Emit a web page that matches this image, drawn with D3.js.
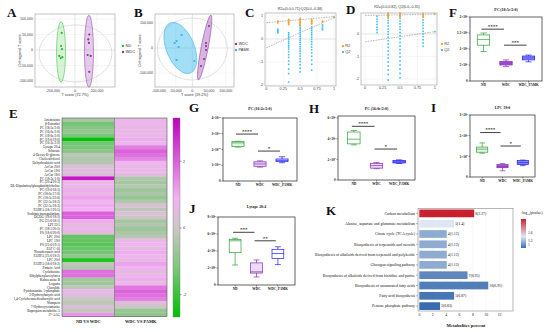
<!DOCTYPE html>
<html><head><meta charset="utf-8">
<script src="https://cdn.jsdelivr.net/npm/d3@7"></script>
<style>
body{margin:0;background:#fff}
svg{display:block}
</style></head><body>
<svg id="fig" width="550" height="332"></svg>
<script>
// ---- data ----
// A: OPLS-DA scores ND vs WDC
const aND = [[-121000,55000],[-127000,13000],[-118000,3000],[-143000,-19000],[-130000,-26000],[-115000,-23000]];
const aWDC = [[130000,50000],[121000,34000],[127000,23000],[115000,-16000],[143000,-19000],[130000,-70000]];
// ellipses: [cx, cy, rx, ry, rotation]
const aEllND = [-127000,-6000,41000,97000,0];
const aEllWDC = [127000,-4000,41000,116000,0];
const aEllAll = [4500,-11000,332000,92000,0];
// B: WDC vs PAMK
const bWDC = [[50000,88000],[41000,20000],[41000,8000],[41000,-8000],[35000,-44000],[26000,-72000]];
const bPAMK = [[-53000,20000],[-47000,28000],[-32000,52000],[-41000,4000],[-47000,-48000],[6000,-52000]];
const bEllWDC = [37000,2000,10500,132000,11];
const bEllPAMK = [-36000,0,42000,108000,-22];
const bEllAll = [0,-4000,105000,124000,0];

// C / D permutation tests: [x, values]
const cR2 = [[0.17,[0.78,0.74,0.7]],[0.33,[0.86,0.82,0.79,0.75,0.71,0.67,0.63]],[0.5,[0.9,0.86,0.83,0.79,0.75,0.72,0.68,0.64,0.6]],[0.67,[0.84,0.8,0.76,0.72,0.68,0.65]],[0.83,[0.78,0.74]],[1,[0.97]]];
const cQ2 = [[0.17,[0.43,0.38,0.33,0.27]],
  [0.33,[0.27,0.2,0.12,0.05,-0.02,-0.1,-0.18,-0.27,-0.35,-0.44,-0.55,-0.68,-0.8,-0.95,-1.1,-1.3,-1.5,-1.87]],
  [0.5,[0.6,0.52,0.44,0.36,0.28,0.2,0.12,0.03,-0.05,-0.14,-0.23,-0.33,-0.42,-0.52,-0.63,-0.74,-0.86,-0.98,-1.12,-1.27,-1.43]],
  [0.67,[0.52,0.44,0.36,0.27,0.18,0.08,-0.02,-0.12,-0.23,-0.35,-0.47,-0.6,-0.75,-0.92,-1.1,-1.35]],
  [0.83,[0.62,0.55,0.47,0.4]],[1,[0.93]]];
const cLines = {r2:[0.71,0.97], q2:[-0.38,0.93]};
const dR2 = [[0.33,[0.92,0.88,0.84,0.8,0.76,0.72]],[0.5,[0.92,0.88,0.84,0.8,0.76]],[0.83,[0.9,0.86,0.82,0.78,0.74]],[1,[0.88]]];
const dQ2 = [[0.17,[0.78,0.66,0.55,0.42,0.3,0.18,0.06]],
  [0.33,[0.85,0.72,0.6,0.48,0.35,0.22,0.1,-0.02,-0.15,-0.3,-0.45,-0.6,-0.76,-0.92,-1.08,-1.25,-1.42,-1.6,-1.8,-2.05]],
  [0.5,[0.82,0.7,0.58,0.45,0.32,0.2,0.06,-0.08,-0.22,-0.38,-0.54,-0.7,-0.86,-1.02,-1.2,-1.38,-1.56,-1.75,-1.95]],
  [0.83,[0.62,0.5,0.38,0.25,0.12,0,-0.12,-0.26,-0.4,-0.55]],[1,[0.1]]];
const dLines = {r2:[0.82,0.88], q2:[-0.35,0.1]};

// box plots: [min, q1, median, q3, max]
const boxCats = ['ND','WDC','WDC_PAMK'];
const fBox = [[0.92,1.12,1.3,1.44,1.5],[0.45,0.5,0.56,0.61,0.66],[0.6,0.66,0.72,0.78,0.81]];
const gBox = [[2.15,2.18,2.42,2.5,2.52],[0.88,0.93,1.08,1.22,1.28],[1.16,1.23,1.31,1.4,1.54]];
const hBox = [[3.4,3.5,3.95,4.65,4.8],[1.1,1.15,1.4,1.6,1.7],[1.6,1.65,1.75,1.9,1.95]];
const iBox = [[1.15,1.2,1.35,1.45,1.65],[0.3,0.45,0.5,0.6,0.65],[0.55,0.6,0.7,0.8,0.82]];
const jBox = [[2.35,3.8,5.2,5.35,5.5],[0.95,1.4,1.55,2.6,2.95],[2.4,3.1,3.7,4.2,4.5]];
// significance: [from, to, y, label]
const fSig = [[0,1,1.62,'****'],[1,2,1.12,'***']];
const gSig = [[0,1,2.98,'****'],[1,2,1.9,'*']];
const hSig = [[0,1,5.2,'****'],[1,2,3.0,'*']];
const iSig = [[0,1,2.15,'****'],[1,2,1.5,'*']];
const jSig = [[0,1,6.2,'***'],[1,2,5.2,'**']];
const fTicks = [[0,'0'],[0.5,'5×10^3'],[1,'1×10^4'],[1.5,'1.5×10^4'],[2,'2×10^4']];
const gTicks = [[0,'0'],[1,'1×10^10'],[2,'2×10^10'],[3,'3×10^10'],[4,'4×10^10']];
const hTicks = [[0,'0'],[2,'2×10^4'],[4,'4×10^4'],[6,'6×10^4']];
const iTicks = [[0,'0'],[1,'1×10^4'],[2,'2×10^4'],[3,'3×10^4']];
const jTicks = [[0,'0'],[2,'2×10^4'],[4,'4×10^4'],[6,'6×10^4'],[8,'8×10^4']];

// E heatmap
const heatCols = ['ND VS WDC','WDC VS PAMK'];
const heatRows = ['Artemisinin','β-Estradiol','PC (18:5e/2:0)','PC (16:0e/2:0)','PC (18:0e/2:0)','PC (19:0/19:0)','PC (16:2e/2:0)','Lysope 20:4','Sebacate','4-Deoxy-D-glucose','Cholecalciferol','Dehydroabietic acid','AcCar 20:0','AcCar 19:0','AcCar 18:0','PC (18:3e/1:0)','PC (20:4/20:3)','DL-Dipalmitoylphosphatidylcholine','PC (19:0/18:3)','PC (18:0e/17:0)','PC (18:3e/22:6)','PC (22:5e/18:2)','PC (22:5e/18:3)','FAHFA (18:1/20:5)','Sorbitan monopalmitate','DGDG (18:0/18:3)','PG (23:0/18:1)','LPI 22:5','PC (18:1/20:5)','PS (18:0/20:0)','LPC 20:0','LPC 19:0','PS (23:0/19:1)','PAF C-16','Nonadecanoic acid','FAHFA (25:0/18:2)','LPC 20:0','FAHFA (18:0/18:2)','Pamoic Acid','Cyclobuxine','Ethylphenylacetylurea','Kahweanine B','Loganin','Clavulide','Pyridoxamine 5-phosphate','3-Hydroxybutyric acid','1,4-Cyclohexanedicarboxylic acid','Wampein','7-Hydroxycoumarine','Bupropion metabolite A','17-AAG'];
const heatND = [-0.5,-1.3,-1.0,-0.8,-1.2,-2.6,-1.3,-1.2,-1.0,-0.2,-0.4,-0.3,0.4,0.5,0.4,3.0,0.8,0.7,1.0,0.8,1.1,0.9,1.0,0.9,2.0,2.0,1.0,0.6,0.8,0.5,-1.5,-1.5,-1.6,-1.4,-1.3,-0.9,-2.3,-0.2,-0.3,1.8,1.8,-0.6,-0.7,-0.2,0.8,0.4,0.0,-0.2,0.3,-0.1,1.3];
const heatPAMK = [0.7,0.9,0.6,0.8,0.7,1.0,0.8,1.6,2.0,1.8,1.5,0.9,0.7,0.8,0.6,-0.4,-0.6,-0.3,-0.7,-0.5,-0.8,-0.4,0.3,-0.2,0.4,0.0,-0.6,-0.4,-0.7,-0.5,-0.3,0.7,0.9,0.6,1.0,0.8,0.7,1.1,0.9,0.6,0.8,1.0,0.7,1.7,2.0,1.8,1.6,0.5,0.0,-0.8,-0.9];

// K KEGG enrichment
const kPathways = ['Carbon metabolism','Alanine, aspartate and glutamate metabolism','Citrate cycle (TCA cycle)','Biosynthesis of terpenoids and steroids','Biosynthesis of alkaloids derived from terpenoid and polyketide','Glucagon signaling pathway','Biosynthesis of alkaloids derived from histidine and purine','Biosynthesis of unsaturated fatty acids','Fatty acid biosynthesis','Pentose phosphate pathway'];
const kPercent = [8.2,5.2,4.1,4.1,4.1,4.1,7.2,10.3,5.2,3.1];
const kCount = [8,5,4,4,4,4,7,10,5,3];
const kLogP = [2.27,1.4,1.12,1.12,1.12,1.12,0.95,0.91,0.87,0.83];

// ---- drawing ----
const svg = d3.select('#fig');
const SERIF = '"Liberation Serif","Times New Roman",serif';
const SANS = '"Liberation Sans",Arial,sans-serif';

function txt(g, x, y, s, o = {}) {
  const size = o.size || 4;
  const t = g.append('text').attr('x', x).attr('y', y)
    .attr('font-size', size).attr('text-anchor', o.anchor || 'start')
    .attr('font-family', o.family || SERIF).attr('fill', o.fill || '#111');
  if (o.weight) t.attr('font-weight', o.weight);
  if (o.rotate) t.attr('transform', `rotate(${o.rotate},${x},${y})`);
  const parts = String(s).split('^');
  t.append('tspan').text(parts[0]);
  if (parts[1]) t.append('tspan').attr('dy', -size * 0.4).attr('font-size', size * 0.7).text(parts[1]);
  return t;
}

function scorePlot(o) {
  const g = svg.append('g');
  const x = d3.scaleLinear().domain(o.xDomain).range([o.x0, o.x1]);
  const y = d3.scaleLinear().domain(o.yDomain).range([o.y1, o.y0]);
  g.selectAll(null).data(o.xTicks).join('line')
    .attr('x1', d => x(d)).attr('x2', d => x(d)).attr('y1', o.y0).attr('y2', o.y1)
    .attr('stroke', d => d === 0 ? '#cfcfcf' : '#ededed').attr('stroke-width', 0.5);
  g.selectAll(null).data(o.yTicks).join('line')
    .attr('y1', d => y(d)).attr('y2', d => y(d)).attr('x1', o.x0).attr('x2', o.x1)
    .attr('stroke', d => d === 0 ? '#cfcfcf' : '#ededed').attr('stroke-width', 0.5);
  const ell = (e, fill, stroke) => {
    const cx = x(e[0]), cy = y(e[1]);
    g.append('ellipse').attr('cx', cx).attr('cy', cy)
      .attr('rx', Math.abs(x(e[2]) - x(0))).attr('ry', Math.abs(y(e[3]) - y(0)))
      .attr('transform', `rotate(${e[4]},${cx},${cy})`)
      .attr('fill', fill).attr('stroke', stroke).attr('stroke-width', 0.5);
  };
  ell(o.all, 'none', '#c4c4c4');
  o.groups.forEach(gr => {
    ell(gr.ell, gr.fill, gr.color);
  });
  o.groups.forEach(gr => {
    g.selectAll(null).data(gr.pts).join('circle')
      .attr('cx', d => x(d[0])).attr('cy', d => y(d[1])).attr('r', 1.1).attr('fill', gr.color);
  });
  g.append('rect').attr('x', o.x0).attr('y', o.y0).attr('width', o.x1 - o.x0).attr('height', o.y1 - o.y0)
    .attr('fill', 'none').attr('stroke', '#9c9c9c').attr('stroke-width', 0.6);
  const f = d3.format(',');
  o.xTicks.forEach(t => txt(g, x(t), o.y1 + 4.5, f(t).replace('−', '-'), {size: 3.6, anchor: 'middle', family: SANS, fill: '#444'}));
  o.yTicks.forEach(t => txt(g, o.x0 - 2, y(t) + 1.3, f(t).replace('−', '-'), {size: 3.6, anchor: 'end', family: SANS, fill: '#444'}));
  txt(g, (o.x0 + o.x1) / 2, o.y1 + 9, o.xLabel, {size: 3.8, anchor: 'middle', family: SANS, fill: '#333'});
  txt(g, o.yLabelX, (o.y0 + o.y1) / 2, 'Orthogonal T score', {size: 3.8, anchor: 'middle', family: SANS, fill: '#333', rotate: -90});
  o.legend.forEach((l, i) => {
    const ly = o.legendY + i * 6;
    g.append('circle').attr('cx', o.legendX).attr('cy', ly).attr('r', 1.2).attr('fill', l[1]);
    txt(g, o.legendX + 2.5, ly + 1.4, l[0], {size: 4, family: SANS, fill: '#333'});
  });
}

function permPlot(o) {
  const g = svg.append('g');
  const x = d3.scaleLinear().domain(o.xDomain).range([o.x0, o.x1]);
  const y = d3.scaleLinear().domain(o.yDomain).range([o.y1, o.y0]);
  const xt = [0, 0.25, 0.5, 0.75, 1];
  const yt = o.yTicks;
  g.selectAll(null).data(xt).join('line')
    .attr('x1', d => x(d)).attr('x2', d => x(d)).attr('y1', o.y0).attr('y2', o.y1)
    .attr('stroke', '#ececec').attr('stroke-width', 0.5);
  g.selectAll(null).data(yt).join('line')
    .attr('y1', d => y(d)).attr('y2', d => y(d)).attr('x1', o.x0).attr('x2', o.x1)
    .attr('stroke', d => d === 0 ? '#cdcdcd' : '#ececec').attr('stroke-width', 0.5);
  [o.lines.r2, o.lines.q2].forEach(l => {
    g.append('line').attr('x1', x(0)).attr('y1', y(l[0])).attr('x2', x(1)).attr('y2', y(l[1]))
      .attr('stroke', '#8a8a8a').attr('stroke-width', 0.6).attr('stroke-dasharray', '1.6,1');
  });
  const pts = (cols, color) => cols.forEach(c => c[1].forEach(v => {
    g.append('rect').attr('x', x(c[0]) - 0.8).attr('y', y(v) - 0.8).attr('width', 1.6).attr('height', 1.6).attr('fill', color);
  }));
  pts(o.q2, '#3fc0ee');
  pts(o.r2, '#f4a533');
  g.append('rect').attr('x', o.x0).attr('y', o.y0).attr('width', o.x1 - o.x0).attr('height', o.y1 - o.y0)
    .attr('fill', 'none').attr('stroke', '#9c9c9c').attr('stroke-width', 0.6);
  xt.forEach(t => txt(g, x(t), o.y1 + 4, String(t), {size: 3.8, anchor: 'middle', family: SANS, fill: '#444'}));
  yt.forEach(t => txt(g, o.x0 - 1.8, y(t) + 1.3, String(t).replace('−', '-'), {size: 3.8, anchor: 'end', family: SANS, fill: '#444'}));
  txt(g, o.titleX, o.titleY, o.title, {size: 3.6, anchor: 'middle', family: SANS, fill: '#333'});
  [['R2', '#f4a533'], ['Q2', '#3fc0ee']].forEach((l, i) => {
    const ly = o.legendY + i * 6;
    g.append('rect').attr('x', o.legendX - 1).attr('y', ly - 1).attr('width', 2).attr('height', 2).attr('fill', l[1]);
    txt(g, o.legendX + 2.2, ly + 1.4, l[0], {size: 3.8, family: SANS, fill: '#333'});
  });
}

const boxStroke = ['#2e9e38', '#8a2bb8', '#1c1cf0'];
function boxPlot(o) {
  const g = svg.append('g');
  const x = d3.scalePoint().domain(boxCats).range([o.x0, o.x1]).padding(o.pad);
  const y = d3.scaleLinear().domain(o.domain).range([o.y1, o.y0]);
  const bw = x.step() * 0.55;
  o.data.forEach((d, i) => {
    const cx = x(boxCats[i]);
    const c = boxStroke[i];
    g.append('line').attr('x1', cx).attr('x2', cx).attr('y1', y(d[0])).attr('y2', y(d[4])).attr('stroke', c).attr('stroke-width', 0.7);
    [d[0], d[4]].forEach(v => g.append('line').attr('x1', cx - bw / 4).attr('x2', cx + bw / 4).attr('y1', y(v)).attr('y2', y(v)).attr('stroke', c).attr('stroke-width', 0.7));
    g.append('rect').attr('x', cx - bw / 2).attr('y', y(d[3])).attr('width', bw).attr('height', y(d[1]) - y(d[3]))
      .attr('fill', o.fills[i]).attr('stroke', c).attr('stroke-width', 0.7);
    g.append('line').attr('x1', cx - bw / 2).attr('x2', cx + bw / 2).attr('y1', y(d[2])).attr('y2', y(d[2])).attr('stroke', c).attr('stroke-width', 0.7);
  });
  o.sig.forEach(s => {
    const xa = x(boxCats[s[0]]) - 2, xb = x(boxCats[s[1]]) - 2;
    g.append('line').attr('x1', xa).attr('x2', xb).attr('y1', y(s[2])).attr('y2', y(s[2])).attr('stroke', '#111').attr('stroke-width', 0.8);
    txt(g, (xa + xb) / 2, y(s[2]) - 1.2, s[3], {size: 5, anchor: 'middle', weight: 'bold'});
  });
  g.append('rect').attr('x', o.x0).attr('y', o.y0).attr('width', o.x1 - o.x0).attr('height', o.y1 - o.y0)
    .attr('fill', 'none').attr('stroke', '#222').attr('stroke-width', 0.7);
  o.ticks.forEach(t => {
    g.append('line').attr('x1', o.x0 - 1.5).attr('x2', o.x0).attr('y1', y(t[0])).attr('y2', y(t[0])).attr('stroke', '#222').attr('stroke-width', 0.5);
    txt(g, o.x0 - 2.2, y(t[0]) + 1.2, t[1], {size: 3.4, anchor: 'end', weight: 'bold'});
  });
  boxCats.forEach(c => {
    g.append('line').attr('x1', x(c)).attr('x2', x(c)).attr('y1', o.y1).attr('y2', o.y1 + 1.5).attr('stroke', '#222').attr('stroke-width', 0.5);
    txt(g, x(c), o.y1 + 5.2, c, {size: 3.4, anchor: 'middle', weight: 'bold'});
  });
  txt(g, (o.x0 + o.x1) / 2, o.titleY, o.title, {size: 3.8, anchor: 'middle', weight: 'bold'});
}

// letters
[['A',7,17],['B',134,17],['C',245,17],['D',346,14],['E',9,118],['F',449,17],['G',189,112],['H',309,113],['I',431,112],['J',189,213],['K',326,215]]
  .forEach(l => txt(svg, l[1], l[2], l[0], {size: 13, weight: 'bold'}));

scorePlot({x0: 35, x1: 115, y0: 14, y1: 87, xDomain: [-364000, 364000], yDomain: [-119000, 116000],
  xTicks: [-200000, 0, 200000], yTicks: [-100000, -50000, 0, 50000, 100000], xLabel: 'T score (72.7%)', yLabelX: 21,
  all: aEllAll,
  groups: [{pts: aND, ell: aEllND, color: '#2db83a', fill: 'rgba(120,215,120,0.3)'},
           {pts: aWDC, ell: aEllWDC, color: '#8e2f9e', fill: 'rgba(175,110,195,0.35)'}],
  legend: [['ND', '#2db83a'], ['WDC', '#8e2f9e']], legendX: 123, legendY: 46});

scorePlot({x0: 155, x1: 234, y0: 14, y1: 87, xDomain: [-112000, 125000], yDomain: [-156000, 136000],
  xTicks: [-100000, -50000, 0, 50000, 100000], yTicks: [-100000, 0, 100000], xLabel: 'T score (19.2%)', yLabelX: 141,
  all: bEllAll,
  groups: [{pts: bPAMK, ell: bEllPAMK, color: '#2fb4e6', fill: 'rgba(70,190,235,0.5)'},
           {pts: bWDC, ell: bEllWDC, color: '#8e2f9e', fill: 'rgba(175,110,195,0.5)'}],
  legend: [['WDC', '#8e2f9e'], ['PAMK', '#2fb4e6']], legendX: 236, legendY: 44});

permPlot({x0: 265, x1: 336, y0: 13, y1: 86, xDomain: [-0.02, 1.03], yDomain: [-2.04, 1.13], yTicks: [-2, -1, 0, 1],
  r2: cR2, q2: cQ2, lines: cLines, title: 'R2=(0.0,0.71);Q2(0.0,-0.38)', titleX: 300, titleY: 10, legendX: 343, legendY: 46});
permPlot({x0: 361, x1: 437, y0: 13, y1: 85, xDomain: [-0.06, 1.03], yDomain: [-2.27, 0.93], yTicks: [-2, -1, 0],
  r2: dR2, q2: dQ2, lines: dLines, title: 'R2=(0.0,0.82), Q2(0.0,-0.35)', titleX: 397, titleY: 8, legendX: 442, legendY: 44});

boxPlot({x0: 470, x1: 542, y0: 17, y1: 81, pad: 0.6, domain: [0, 2], data: fBox, sig: fSig, ticks: fTicks,
  fills: ['#ffffff', '#a55ad2', '#9a9aff'], title: 'PC (18:5e/2:0)', titleY: 11});
boxPlot({x0: 223, x1: 297, y0: 118, y1: 181, pad: 0.68, domain: [0, 4], data: gBox, sig: gSig, ticks: gTicks,
  fills: ['#e6f4e6', '#e6d4f4', '#d6d6ff'], title: 'PC (16:2e/2:0)', titleY: 110});
boxPlot({x0: 338, x1: 415, y0: 116, y1: 180, pad: 0.7, domain: [0, 6.2], data: hBox, sig: hSig, ticks: hTicks,
  fills: ['#ffffff', '#ecdcf8', '#8c8cff'], title: 'PC (16:0e/2:0)', titleY: 110});
boxPlot({x0: 470, x1: 535, y0: 115, y1: 177, pad: 0.6, domain: [0, 3], data: iBox, sig: iSig, ticks: iTicks,
  fills: ['#eaf6ea', '#a55ad2', '#8c8cff'], title: 'LPC 19:0', titleY: 109});
boxPlot({x0: 218, x1: 295, y0: 217, y1: 285, pad: 0.8, domain: [0, 8], data: jBox, sig: jSig, ticks: jTicks,
  fills: ['#ffffff', '#ecdcf8', '#ffffff'], title: 'Lysope 20:4', titleY: 208});

// E heatmap
(function () {
  const g = svg.append('g');
  const hx = d3.scaleBand().domain(heatCols).range([62, 167]);
  const hy = d3.scaleBand().domain(d3.range(heatRows.length)).range([118, 316.5]);
  const col = d3.scaleLinear().domain([-2.67, -1.2, 0, 0.9, 3.3])
    .range(['#00c000', '#7cc67c', '#cbc6c4', '#f0b4f0', '#c000c0']);
  [heatND, heatPAMK].forEach((vals, ci) => {
    g.selectAll(null).data(vals).join('rect')
      .attr('x', hx(heatCols[ci])).attr('y', (d, i) => hy(i))
      .attr('width', hx.bandwidth()).attr('height', hy.bandwidth() + 0.2)
      .attr('fill', d => col(d));
  });
  g.append('rect').attr('x', 62).attr('y', 118).attr('width', 105).attr('height', 198.5)
    .attr('fill', 'none').attr('stroke', '#555').attr('stroke-width', 0.6);
  g.append('line').attr('x1', hx(heatCols[1])).attr('x2', hx(heatCols[1])).attr('y1', 118).attr('y2', 316.5)
    .attr('stroke', '#555').attr('stroke-width', 0.5);
  heatRows.forEach((r, i) => txt(g, 60, hy(i) + hy.bandwidth() / 2 + 1.2, r, {size: 3.4, anchor: 'end'}));
  heatCols.forEach(c => txt(g, hx(c) + hx.bandwidth() / 2, 323, c, {size: 4.4, anchor: 'middle', weight: 'bold'}));
  // colour bar
  const cb = d3.scaleLinear().domain([-2.67, 3.3]).range([317, 118]);
  const grad = svg.append('defs').append('linearGradient').attr('id', 'hgrad')
    .attr('x1', 0).attr('x2', 0).attr('y1', 1).attr('y2', 0);
  col.domain().forEach(v => grad.append('stop')
    .attr('offset', (v + 2.67) / (3.3 + 2.67)).attr('stop-color', col(v)));
  g.append('rect').attr('x', 173).attr('y', 118).attr('width', 7).attr('height', 199)
    .attr('fill', 'url(#hgrad)').attr('stroke', '#777').attr('stroke-width', 0.4);
  [2, 0, -2].forEach(t => {
    g.append('line').attr('x1', 180).attr('x2', 181.5).attr('y1', cb(t)).attr('y2', cb(t)).attr('stroke', '#333').attr('stroke-width', 0.5);
    txt(g, 183, cb(t) + 1.3, String(t), {size: 3.8, family: SANS, fill: '#333'});
  });
})();

// K enrichment bars
(function () {
  const g = svg.append('g');
  const x = d3.scaleLinear().domain([-0.2, 14]).range([418, 513]);
  const y = d3.scaleBand().domain(kPathways).range([208.5, 311]).paddingInner(0.25).paddingOuter(0.1);
  const col = d3.scaleLinear().domain([0.83, 1.4, 2.27]).range(['#3a6daf', '#dfe8f2', '#c8202f']);
  const xt = [0, 2, 4, 6, 8, 10, 12];
  g.selectAll(null).data(xt).join('line')
    .attr('x1', d => x(d)).attr('x2', d => x(d)).attr('y1', 208.5).attr('y2', 311)
    .attr('stroke', '#dedede').attr('stroke-width', 0.4).attr('stroke-dasharray', '1,1');
  g.selectAll(null).data(kPathways).join('rect')
    .attr('x', x(0)).attr('y', d => y(d)).attr('height', y.bandwidth())
    .attr('width', (d, i) => x(kPercent[i]) - x(0)).attr('fill', (d, i) => col(kLogP[i]));
  kPathways.forEach((p, i) => {
    txt(g, x(kPercent[i]) + 1, y(p) + y.bandwidth() / 2 + 1.3, `${kCount[i]}(${kLogP[i]})`, {size: 3.8});
    txt(g, 415, y(p) + y.bandwidth() / 2 + 1.3, p, {size: 3.9, anchor: 'end'});
    g.append('line').attr('x1', 416).attr('x2', 418).attr('y1', y(p) + y.bandwidth() / 2).attr('y2', y(p) + y.bandwidth() / 2)
      .attr('stroke', '#444').attr('stroke-width', 0.4);
  });
  g.append('rect').attr('x', 418).attr('y', 208.5).attr('width', 95).attr('height', 102.5)
    .attr('fill', 'none').attr('stroke', '#888').attr('stroke-width', 0.6);
  xt.forEach(t => txt(g, x(t), 316, String(t), {size: 3.8, anchor: 'middle'}));
  txt(g, 466, 327, 'Metabolites percent', {size: 4.6, anchor: 'middle', weight: 'bold'});
  // legend
  const lg = d3.scaleLinear().domain([0.83, 2.27]).range([248, 219]);
  const grad = svg.append('defs').append('linearGradient').attr('id', 'kgrad')
    .attr('x1', 0).attr('x2', 0).attr('y1', 1).attr('y2', 0);
  col.domain().forEach(v => grad.append('stop').attr('offset', (v - 0.83) / (2.27 - 0.83)).attr('stop-color', col(v)));
  g.append('rect').attr('x', 521).attr('y', 219).attr('width', 5).attr('height', 29).attr('fill', 'url(#kgrad)');
  [1, 1.2, 1.6].forEach(t => txt(g, 528, lg(t) + 1.2, String(t), {size: 3.6}));
  const tt = txt(g, 521, 214, '-log', {size: 3.8});
  tt.append('tspan').attr('dy', 1).attr('font-size', 2.7).text('10');
  tt.append('tspan').attr('dy', -1).text('(pvalue)');
})();
</script></body></html>
